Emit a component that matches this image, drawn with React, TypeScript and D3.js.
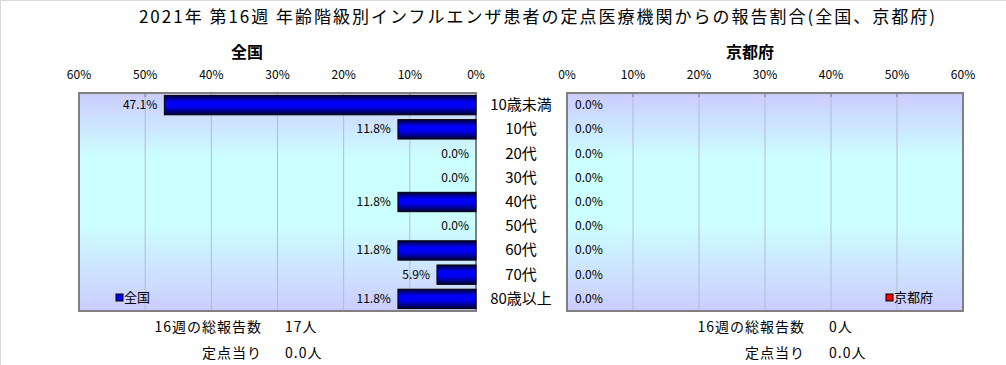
import * as d3 from "d3";

const categories = ["10歳未満", "10代", "20代", "30代", "40代", "50代", "60代", "70代", "80歳以上"];
const nationalValues = [47.1, 11.8, 0, 0, 11.8, 0, 11.8, 5.9, 11.8];
const kyotoValues = [0, 0, 0, 0, 0, 0, 0, 0, 0];
const tickValues = [0, 10, 20, 30, 40, 50, 60];
const titleText = "2021年 第16週 年齢階級別インフルエンザ患者の定点医療機関からの報告割合(全国、京都府)";
const nationalSummary = [["16週の総報告数", "17人"], ["定点当り", "0.0人"]];
const kyotoSummary = [["16週の総報告数", "0人"], ["定点当り", "0.0人"]];

const W = 1006;
const H = 365;
const top = 93;
const bottom = 311;
const font = "'Noto Sans CJK JP', 'Noto Sans', sans-serif";

function Panel({ values, x0, x1, reversed, name, color, legendX }: any) {
  const x = d3.scaleLinear().domain([0, 60]).range(reversed ? [x1, x0] : [x0, x1]);
  const y = d3.scaleBand<string>().domain(categories).range([top, bottom]).paddingInner(0.2).paddingOuter(0.1);
  return (
    <g>
      <rect x={x0} y={top} width={x1 - x0} height={bottom - top} fill={`url(#bg)`} />
      {tickValues.slice(1, -1).map((t) => (
        <line key={t} x1={x(t)} x2={x(t)} y1={top} y2={bottom} stroke="#b4bccc" strokeWidth={1} />
      ))}
      {tickValues.slice(1, -1).map((t) => (
        <line key={"k" + t} x1={x(t)} x2={x(t)} y1={top} y2={top + 4} stroke="#808080" strokeWidth={1} />
      ))}
      <rect x={x0} y={top} width={x1 - x0} height={bottom - top} fill="none" stroke="#808080" strokeWidth={2} />
      {tickValues.map((t) => (
        <text key={"t" + t} x={x(t)} y={79} textAnchor="middle" fontSize={12} fill="#000" fontFamily={font}>
          {t}%
        </text>
      ))}
      {values.map((v: number, i: number) => {
        const c = categories[i];
        const yy = y(c)!;
        const bw = Math.abs(x(v) - x(0));
        const bx = reversed ? x(v) : x(0);
        return (
          <g key={c}>
            {v > 0 && (
              <rect x={bx} y={yy} width={bw} height={y.bandwidth()} fill="url(#barBlue)" stroke="#000" strokeWidth={1} />
            )}
            <text
              x={reversed ? x(v) - 7 : x(0) + 8}
              y={yy + y.bandwidth() / 2 + 4}
              textAnchor={reversed ? "end" : "start"}
              fontSize={12}
              fontFamily={font}
              fill="#000"
            >
              {v.toFixed(1)}%
            </text>
          </g>
        );
      })}
      <rect x={legendX} y={294} width={7} height={7} fill={color} stroke="#000" strokeWidth={1} />
      <text x={legendX + 8} y={302} fontSize={13} fontFamily={font} fill="#000">
        {name}
      </text>
    </g>
  );
}

export default function App() {
  const y = d3.scaleBand<string>().domain(categories).range([top, bottom]).paddingInner(0.2).paddingOuter(0.1);
  return (
    <svg width={W} height={H} style={{ display: "block", position: "absolute", left: 0, top: 0 }}>
      <defs>
        <linearGradient id="bg" x1="0" y1="0" x2="0" y2="1">
          <stop offset="0" stopColor="#ccccff" />
          <stop offset="0.3" stopColor="#ccffff" />
          <stop offset="0.6" stopColor="#ccffff" />
          <stop offset="1" stopColor="#ccccff" />
        </linearGradient>
        <linearGradient id="barBlue" x1="0" y1="0" x2="0" y2="1">
          <stop offset="0" stopColor="#000033" />
          <stop offset="0.35" stopColor="#0000ff" />
          <stop offset="0.6" stopColor="#0000ee" />
          <stop offset="1" stopColor="#000033" />
        </linearGradient>
      </defs>
      <rect x={0} y={0} width={W} height={H} fill="#fff" />
      <line x1={0} x2={W} y1={0.5} y2={0.5} stroke="#d8d8d8" />
      <line x1={0.5} x2={0.5} y1={0} y2={H} stroke="#d8d8d8" />
      <text x={538} y={23} textAnchor="middle" fontSize={17} letterSpacing={2} fontFamily={font} fill="#000">
        {titleText}
      </text>
      <text x={247} y={58} textAnchor="middle" fontSize={16} fontWeight="bold" fontFamily={font} fill="#000">
        全国
      </text>
      <text x={750} y={58} textAnchor="middle" fontSize={16} fontWeight="bold" fontFamily={font} fill="#000">
        京都府
      </text>
      <Panel values={nationalValues} x0={79} x1={476} reversed name="全国" color="#0000ff" legendX={116} />
      <Panel values={kyotoValues} x0={567} x1={963} reversed={false} name="京都府" color="#ff0000" legendX={886} />
      {categories.map((c) => (
        <text key={c} x={521} y={y(c)! + y.bandwidth() / 2 + 5} textAnchor="middle" fontSize={15} fontFamily={font} fill="#000">
          {c}
        </text>
      ))}
      {nationalSummary.map(([a, b], i) => (
        <g key={"n" + i}>
          <text x={262} y={332 + i * 26} textAnchor="end" fontSize={14} letterSpacing={1} fontFamily={font}>{a}</text>
          <text x={285} y={332 + i * 26} fontSize={14} letterSpacing={1} fontFamily={font}>{b}</text>
        </g>
      ))}
      {kyotoSummary.map(([a, b], i) => (
        <g key={"k" + i}>
          <text x={805} y={332 + i * 26} textAnchor="end" fontSize={14} letterSpacing={1} fontFamily={font}>{a}</text>
          <text x={829} y={332 + i * 26} fontSize={14} letterSpacing={1} fontFamily={font}>{b}</text>
        </g>
      ))}
    </svg>
  );
}
